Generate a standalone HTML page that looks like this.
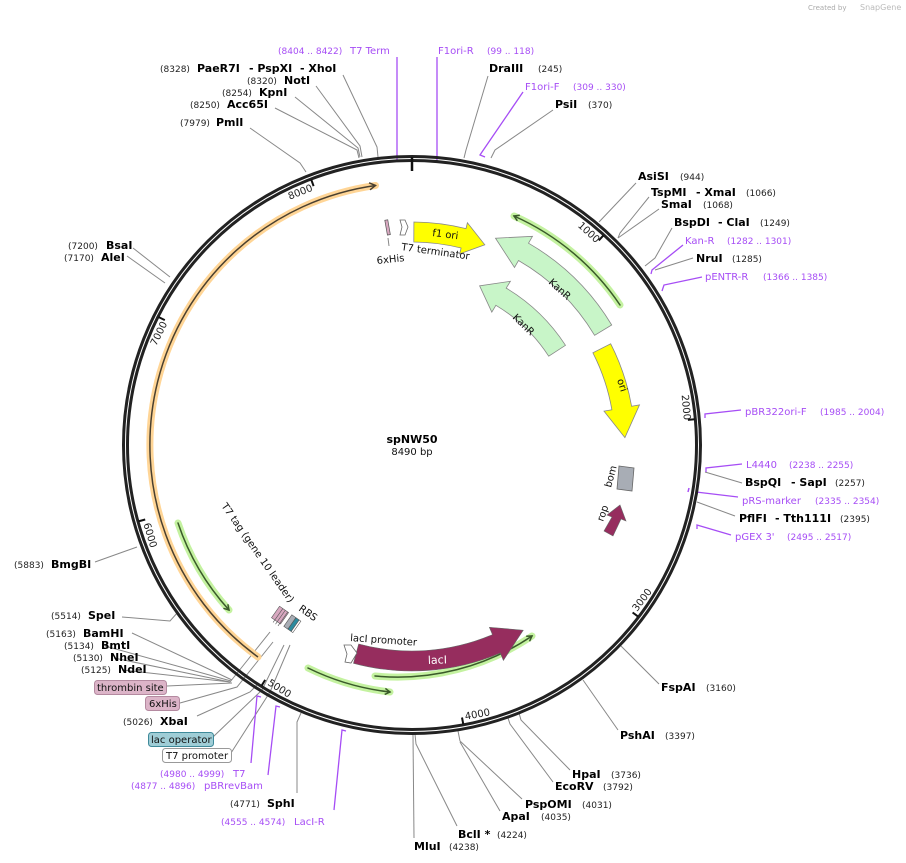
<!DOCTYPE html>
<html><head><meta charset="utf-8"><style>
html,body{margin:0;padding:0;background:#fff;}
svg{display:block;font-family:"DejaVu Sans","Liberation Sans",sans-serif;}
.b{font-weight:bold;font-size:11px;fill:#000}
.n{font-size:9px;fill:#222}
.p{font-size:10px;fill:#a64df5}
.pn{font-size:9px;fill:#a64df5}
.l{stroke:#888;stroke-width:1;fill:none}
.pl{stroke:#a64df5;stroke-width:1.3;fill:none}
.t{font-size:10px;fill:#222}
.f{font-size:10px;fill:#111}
</style></head><body>
<svg width="906" height="863" viewBox="0 0 906 863" xmlns="http://www.w3.org/2000/svg">
<defs>
<marker id="ag" markerWidth="8" markerHeight="8" refX="6" refY="4" orient="auto" markerUnits="userSpaceOnUse"><path d="M1,1 L6,4 L1,7" fill="none" stroke="#3a5a2a" stroke-width="1.5"/></marker>
<marker id="ao" markerWidth="10" markerHeight="10" refX="7" refY="5" orient="auto" markerUnits="userSpaceOnUse"><path d="M1,1.5 L7,5 L1,8.5" fill="none" stroke="#4a4030" stroke-width="1.5"/></marker>
</defs>
<text x="808" y="10" font-size="7" fill="#aaa">Created by</text>
<text x="860" y="10" font-size="8" fill="#bbb">SnapGene</text>

<!-- leader lines -->
<g class="l">
<polyline points="343,75 377,147 378,157"/>
<polyline points="316,86 360,146 362,157"/>
<polyline points="295,97 358,148 360,157"/>
<polyline points="275,108 357,150 359,158"/>
<polyline points="250,128 300,163 306,172"/>
<polyline points="488,76 466,150 464,158"/>
<polyline points="553,110 495,150 491,158"/>
<polyline points="636,183 599,222"/>
<polyline points="649,197 620,233 618,238"/>
<polyline points="659,209 618,238"/>
<polyline points="672,228 655,258 645,266"/>
<polyline points="693,258 655,270"/>
<polyline points="742,483 705,472"/>
<polyline points="735,516 697,502"/>
<polyline points="659,684 620,645"/>
<polyline points="618,730 583,680"/>
<polyline points="570,770 521,720 519,713"/>
<polyline points="553,782 510,724 508,718"/>
<polyline points="522,799 460,741 458,731"/>
<polyline points="500,811 460,742"/>
<polyline points="457,826 416,744 415,734"/>
<polyline points="414,838 413,735"/>
<polyline points="297,793 297,722 301,713"/>
<polyline points="231,753 270,692 290,645"/>
<polyline points="213,737 262,690 284,645"/>
<polyline points="197,716 250,692 257,685"/>
<polyline points="180,703 237,687 273,642"/>
<polyline points="167,686 232,683"/>
<polyline points="122,670 230,682 270,632"/>
<polyline points="114,658 230,682"/>
<polyline points="105,646 231,681"/>
<polyline points="132,633 232,680"/>
<polyline points="122,617 170,621 178,612"/>
<polyline points="95,562 137,547"/>
<polyline points="133,248 170,277"/>
<polyline points="127,256 165,283"/>
</g>
<!-- primer lines -->
<g class="pl">
<polyline points="397,57 397,160 393,161"/>
<polyline points="437,57 437,160 433,162"/>
<polyline points="523,92 482,152 480,155 485,157"/>
<polyline points="683,245 652,270 651,274"/>
<polyline points="702,277 664,285 662,291"/>
<polyline points="741,410 705,414 705,418"/>
<polyline points="742,464 706,468 706,472"/>
<polyline points="738,497 696,492"/>
<polyline points="731,535 697,525 697,529"/>
<polyline points="251,763 257,696 261,697"/>
<polyline points="268,775 276,706 280,707"/>
<polyline points="334,810 342,730 346,731"/>
</g>
<line x1="689" y1="488" x2="688" y2="492" stroke="#a64df5" stroke-width="1.5"/>

<!-- ring -->
<circle cx="412" cy="445" r="288.5" fill="none" stroke="#222" stroke-width="3"/>
<circle cx="412" cy="445" r="284.5" fill="none" stroke="#222" stroke-width="3"/>
<line x1="412" y1="157" x2="412" y2="171" stroke="#111" stroke-width="2.5"/>
<g stroke="#111" stroke-width="2">
<line x1="603.5" y1="235.3" x2="598.8" y2="240.4"/>
<line x1="694.8" y1="419.3" x2="687.9" y2="419.9"/>
<line x1="638.2" y1="616.7" x2="632.6" y2="612.5"/>
<line x1="463.3" y1="724.3" x2="462" y2="717.5"/>
<line x1="261.5" y1="685.8" x2="265.2" y2="679.9"/>
<line x1="138.4" y1="521.4" x2="145.2" y2="519.5"/>
<line x1="158.5" y1="317" x2="164.8" y2="320.1"/>
<line x1="311.2" y1="179.5" x2="313.6" y2="186.1"/>
</g>
<g class="t">
<text x="596" y="243.4" text-anchor="end" transform="rotate(42.4 596 243.4)">1000</text>
<text x="683.9" y="420.3" text-anchor="end" transform="rotate(84.8 683.9 420.3)">2000</text>
<text x="637" y="612" transform="rotate(-52.8 637 612)">3000</text>
<text x="465.5" y="719.8" transform="rotate(-10.4 465.5 719.8)">4000</text>
<text x="267" y="684.5" transform="rotate(32 267 684.5)">5000</text>
<text x="143.4" y="524" transform="rotate(73.6 143.4 524)">6000</text>
<text x="167.5" y="323.6" text-anchor="end" transform="rotate(-63.6 167.5 323.6)">7000</text>
<text x="313.3" y="190.5" text-anchor="end" transform="rotate(-21.2 313.3 190.5)">8000</text>
</g>

<!-- orange arc -->
<path d="M258,657 A262,262 0 0 1 375.5,185.5" fill="none" stroke="#ffd596" stroke-width="7" stroke-linecap="round"/>
<path d="M258,657 A262,262 0 0 1 375.5,185.5" fill="none" stroke="#4a4030" stroke-width="1.5" marker-end="url(#ao)"/>
<!-- green arcs -->
<g fill="none" stroke-linecap="round">
<path d="M620,305 A251,251 0 0 0 514,216" stroke="#c4f2a0" stroke-width="7"/>
<path d="M620,305 A251,251 0 0 0 514,216" stroke="#3a5a2a" stroke-width="1.5" marker-end="url(#ag)"/>
<path d="M178,523 A246,246 0 0 0 229,610" stroke="#c4f2a0" stroke-width="7"/>
<path d="M178,523 A246,246 0 0 0 229,610" stroke="#3a5a2a" stroke-width="1.5" marker-end="url(#ag)"/>
<path d="M308,668 A250,250 0 0 0 390,692" stroke="#c4f2a0" stroke-width="7"/>
<path d="M308,668 A250,250 0 0 0 390,692" stroke="#3a5a2a" stroke-width="1.5" marker-end="url(#ag)"/>
<path d="M375,676 A240,240 0 0 0 532,636" stroke="#c4f2a0" stroke-width="7"/>
<path d="M375,676 A240,240 0 0 0 532,636" stroke="#3a5a2a" stroke-width="1.5" marker-end="url(#ag)"/>
</g>

<!-- features -->
<path d="M413.9,222 A223,223 0 0 1 466,228.6 L467.4,222.8 L484.8,244.8 L459.7,253.9 L461.1,248 A203,203 0 0 0 413.8,242 Z" fill="#ffff00" stroke="#888" stroke-width="0.8"/>
<text x="432" y="236" class="f" transform="rotate(7 432 236)">f1 ori</text>
<path d="M611.7,325 A233,233 0 0 0 528.5,243.2 L532.5,236.3 L495.5,238.2 L514.5,267.5 L518.5,260.5 A213,213 0 0 1 594.6,335.3 Z" fill="#c8f5c8" stroke="#888" stroke-width="0.8"/>
<text x="548" y="283" class="f" transform="rotate(42 548 283)">KanR</text>
<path d="M565.5,345.3 A183,183 0 0 0 506.2,288.1 L510.4,281.3 L479.6,285.8 L491.8,312.1 L495.9,305.3 A163,163 0 0 1 548.7,356.2 Z" fill="#c8f5c8" stroke="#888" stroke-width="0.8"/>
<text x="512" y="318" class="f" transform="rotate(44 512 318)">KanR</text>
<path d="M610.7,343.8 A223,223 0 0 1 631.6,406.3 L639.5,404.9 L624.9,437.6 L604,411.1 L611.9,409.8 A203,203 0 0 0 592.9,352.8 Z" fill="#ffff00" stroke="#888" stroke-width="0.8"/>
<text x="617" y="380" class="f" transform="rotate(72 617 380)">ori</text>
<polygon points="619,466 634,468 632,491 617,489" fill="#a8adb5" stroke="#666" stroke-width="0.8"/>
<text x="611" y="488" class="f" transform="rotate(-75 611 488)">bom</text>
<polygon points="604,531 612,517 607,515 620,505 626,521 621,519 613,536" fill="#962d5e" stroke="#666" stroke-width="0.6"/>
<text x="603" y="522" class="f" transform="rotate(-70 603 522)">rop</text>
<path d="M353.5,663.3 A226,226 0 0 0 500.3,653 L503.4,660.4 L523.2,630.2 L489.4,627.3 L492.5,634.6 A206,206 0 0 1 358.7,644 Z" fill="#962d5e" stroke="#666" stroke-width="0.6"/>
<text x="428" y="664" font-size="11" fill="#fff" transform="rotate(-2 428 664)">lacI</text>
<polygon points="344,645 351,645 357,653 351,663 345,662 347,654" fill="#fff" stroke="#666" stroke-width="0.8"/>
<text x="350" y="641" class="f" transform="rotate(4 350 641)">lacI promoter</text>
<!-- top small features -->
<rect x="386" y="220" width="3" height="15" fill="#d8a8c0" stroke="#555" stroke-width="0.7" transform="rotate(-10 387 227)"/>
<line x1="388" y1="238" x2="389" y2="246" stroke="#888"/>
<polygon points="400,220 405,220 408,227 405,235 400,235 402,227" fill="#fff" stroke="#666" stroke-width="0.8"/>
<text x="401" y="250" class="f" transform="rotate(8 401 250)">T7 terminator</text>
<text x="377" y="264" class="f" transform="rotate(-6 377 264)">6xHis</text>
<!-- bottom-left small features -->
<g transform="rotate(35 287 620)" stroke="#555" stroke-width="0.6">
<rect x="273" y="613" width="11" height="14" fill="#d8a8c0"/>
<line x1="277" y1="613" x2="277" y2="630"/><line x1="280" y1="613" x2="280" y2="630"/><line x1="283" y1="613" x2="283" y2="630"/>
<rect x="288" y="613" width="5" height="14" fill="#a8adb5"/>
<rect x="293" y="613" width="4" height="14" fill="#2b8a9e"/>
<rect x="297" y="613" width="2" height="14" fill="#fff"/>
</g>
<text x="221" y="506" class="f" transform="rotate(55 221 506)">T7 tag (gene 10 leader)</text>
<text x="298" y="610" class="f" transform="rotate(35 298 610)">RBS</text>

<!-- center -->
<text x="412" y="443" text-anchor="middle" class="b">spNW50</text>
<text x="412" y="455" text-anchor="middle" font-size="10" fill="#111">8490 bp</text>

<!-- labels top -->
<text x="278" y="54" class="pn">(8404 .. 8422)</text><text x="350" y="54" class="p">T7 Term</text>
<text x="438" y="54" class="p">F1ori-R</text><text x="487" y="54" class="pn">(99 .. 118)</text>
<text x="160" y="72" class="n">(8328)</text><text x="197" y="72" class="b">PaeR7I</text><text x="249" y="72" class="b">- PspXI</text><text x="300" y="72" class="b">- XhoI</text>
<text x="247" y="84" class="n">(8320)</text><text x="284" y="84" class="b">NotI</text>
<text x="222" y="96" class="n">(8254)</text><text x="259" y="96" class="b">KpnI</text>
<text x="190" y="108" class="n">(8250)</text><text x="227" y="108" class="b">Acc65I</text>
<text x="180" y="126" class="n">(7979)</text><text x="216" y="126" class="b">PmlI</text>
<text x="489" y="72" class="b">DraIII</text><text x="538" y="72" class="n">(245)</text>
<text x="525" y="90" class="p">F1ori-F</text><text x="573" y="90" class="pn">(309 .. 330)</text>
<text x="555" y="108" class="b">PsiI</text><text x="588" y="108" class="n">(370)</text>
<!-- right -->
<text x="638" y="180" class="b">AsiSI</text><text x="680" y="180" class="n">(944)</text>
<text x="651" y="196" class="b">TspMI</text><text x="696" y="196" class="b">- XmaI</text><text x="746" y="196" class="n">(1066)</text>
<text x="661" y="208" class="b">SmaI</text><text x="703" y="208" class="n">(1068)</text>
<text x="674" y="226" class="b">BspDI</text><text x="718" y="226" class="b">- ClaI</text><text x="760" y="226" class="n">(1249)</text>
<text x="685" y="244" class="p">Kan-R</text><text x="727" y="244" class="pn">(1282 .. 1301)</text>
<text x="696" y="262" class="b">NruI</text><text x="732" y="262" class="n">(1285)</text>
<text x="705" y="280" class="p">pENTR-R</text><text x="763" y="280" class="pn">(1366 .. 1385)</text>
<text x="745" y="415" class="p">pBR322ori-F</text><text x="820" y="415" class="pn">(1985 .. 2004)</text>
<text x="746" y="468" class="p">L4440</text><text x="789" y="468" class="pn">(2238 .. 2255)</text>
<text x="745" y="486" class="b">BspQI</text><text x="791" y="486" class="b">- SapI</text><text x="835" y="486" class="n">(2257)</text>
<text x="742" y="504" class="p">pRS-marker</text><text x="815" y="504" class="pn">(2335 .. 2354)</text>
<text x="739" y="522" class="b">PflFI</text><text x="775" y="522" class="b">- Tth111I</text><text x="840" y="522" class="n">(2395)</text>
<text x="735" y="540" class="p">pGEX 3'</text><text x="787" y="540" class="pn">(2495 .. 2517)</text>
<!-- bottom right -->
<text x="661" y="691" class="b">FspAI</text><text x="706" y="691" class="n">(3160)</text>
<text x="620" y="739" class="b">PshAI</text><text x="665" y="739" class="n">(3397)</text>
<text x="572" y="778" class="b">HpaI</text><text x="611" y="778" class="n">(3736)</text>
<text x="555" y="790" class="b">EcoRV</text><text x="603" y="790" class="n">(3792)</text>
<text x="525" y="808" class="b">PspOMI</text><text x="582" y="808" class="n">(4031)</text>
<text x="502" y="820" class="b">ApaI</text><text x="541" y="820" class="n">(4035)</text>
<text x="458" y="838" class="b">BclI *</text><text x="497" y="838" class="n">(4224)</text>
<text x="414" y="850" class="b">MluI</text><text x="449" y="850" class="n">(4238)</text>
<!-- bottom left -->
<text x="230" y="807" class="n">(4771)</text><text x="267" y="807" class="b">SphI</text>
<text x="221" y="825" class="pn">(4555 .. 4574)</text><text x="294" y="825" class="p">LacI-R</text>
<text x="160" y="777" class="pn">(4980 .. 4999)</text><text x="233" y="777" class="p">T7</text>
<text x="131" y="789" class="pn">(4877 .. 4896)</text><text x="204" y="789" class="p">pBRrevBam</text>
<rect x="162.5" y="748.5" width="69" height="14" rx="3" fill="#fff" stroke="#999"/>
<text x="166" y="759" class="f">T7 promoter</text>
<rect x="148.5" y="732.5" width="65" height="14" rx="3" fill="#9fcdd6" stroke="#3f8a9a"/>
<text x="151" y="743" class="f">lac operator</text>
<text x="123" y="725" class="n">(5026)</text><text x="160" y="725" class="b">XbaI</text>
<rect x="145.5" y="696.5" width="34" height="14" rx="3" fill="#dcb4c8" stroke="#b48aa0"/>
<text x="149" y="707" class="f">6xHis</text>
<rect x="94.5" y="680.5" width="72" height="14" rx="3" fill="#dcb4c8" stroke="#b48aa0"/>
<text x="97" y="691" class="f">thrombin site</text>
<text x="81" y="673" class="n">(5125)</text><text x="118" y="673" class="b">NdeI</text>
<text x="73" y="661" class="n">(5130)</text><text x="110" y="661" class="b">NheI</text>
<text x="64" y="649" class="n">(5134)</text><text x="101" y="649" class="b">BmtI</text>
<text x="46" y="637" class="n">(5163)</text><text x="83" y="637" class="b">BamHI</text>
<text x="51" y="619" class="n">(5514)</text><text x="88" y="619" class="b">SpeI</text>
<text x="14" y="568" class="n">(5883)</text><text x="51" y="568" class="b">BmgBI</text>
<text x="68" y="249" class="n">(7200)</text><text x="106" y="249" class="b">BsaI</text>
<text x="64" y="261" class="n">(7170)</text><text x="101" y="261" class="b">AleI</text>
</svg>
</body></html>
